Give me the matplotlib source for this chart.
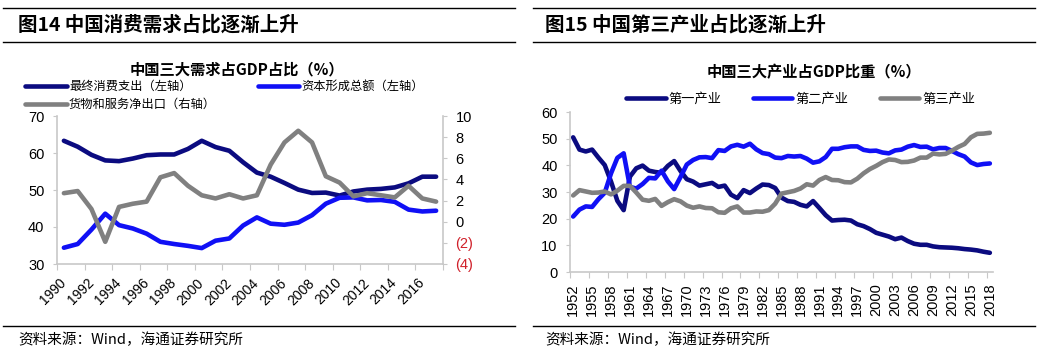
import matplotlib
matplotlib.use("Agg")
import matplotlib.pyplot as plt
from matplotlib.lines import Line2D
from matplotlib.ticker import FixedLocator, NullFormatter

plt.rcParams['font.family'] = ['Liberation Sans', 'Noto Sans CJK SC', 'DejaVu Sans']
CJK = ['Noto Sans CJK SC', 'DejaVu Sans']

# ---- data: demand shares (1990-2017) ----
years_a = list(range(1990, 2018))
consumption = [63.3, 61.7, 59.5, 58.0, 57.8, 58.5, 59.4, 59.6, 59.6, 61.1,
               63.3, 61.6, 60.6, 57.5, 54.7, 53.6, 51.9, 50.1, 49.2, 49.3,
               48.5, 49.6, 50.1, 50.3, 50.7, 51.8, 53.6, 53.6]
capital = [34.4, 35.4, 39.3, 43.6, 40.5, 39.6, 38.2, 36.0, 35.4, 34.9,
           34.3, 36.3, 36.9, 40.4, 42.6, 40.9, 40.6, 41.2, 43.2, 46.3,
           47.9, 48.0, 47.2, 47.3, 46.8, 44.7, 44.2, 44.4]
net_exports = [2.7, 2.9, 1.2, -1.9, 1.4, 1.7, 1.9, 4.2, 4.6, 3.4,
               2.5, 2.2, 2.6, 2.2, 2.5, 5.4, 7.5, 8.6, 7.5, 4.3,
               3.7, 2.4, 2.7, 2.5, 2.3, 3.4, 2.2, 1.9]

# ---- data: industry shares (1952-2018) ----
years_b = list(range(1952, 2019))
primary = [50.5, 45.9, 45.2, 45.9, 42.9, 40.1, 33.9, 26.7, 23.2, 35.8,
           38.9, 39.9, 38.0, 37.5, 37.2, 39.8, 41.6, 37.9, 34.8, 33.9,
           32.4, 32.9, 33.4, 31.9, 32.4, 29.0, 27.7, 30.7, 29.6, 31.3,
           32.8, 32.6, 31.5, 27.9, 26.6, 26.3, 25.2, 24.6, 26.6, 24.0,
           21.3, 19.3, 19.5, 19.6, 19.3, 17.9, 17.2, 16.1, 14.7, 14.0,
           13.3, 12.3, 12.9, 11.6, 10.6, 10.2, 10.2, 9.6, 9.3, 9.2,
           9.1, 8.9, 8.6, 8.4, 8.1, 7.6, 7.2]
secondary = [20.8, 23.4, 24.6, 24.4, 27.3, 29.7, 37.0, 42.8, 44.5, 31.9,
             31.3, 33.0, 35.3, 35.1, 38.0, 34.0, 31.1, 35.6, 40.3, 42.0,
             43.0, 43.1, 42.7, 45.7, 45.4, 47.1, 47.7, 47.0, 48.1, 46.0,
             44.6, 44.2, 42.9, 42.7, 43.5, 43.3, 43.5, 42.5, 41.0, 41.5,
             43.1, 46.2, 46.2, 46.8, 47.1, 47.1, 45.8, 45.4, 45.5, 44.8,
             44.5, 45.6, 45.9, 47.0, 47.6, 46.9, 47.0, 46.0, 46.5, 46.5,
             45.4, 44.2, 43.3, 41.1, 40.1, 40.5, 40.7]
tertiary = [28.7, 30.7, 30.2, 29.7, 29.8, 30.2, 29.1, 30.5, 32.3, 32.3,
            29.8, 27.1, 26.7, 27.4, 24.8, 26.2, 27.3, 26.5, 24.9, 24.1,
            24.6, 24.0, 23.9, 22.4, 22.2, 23.9, 24.6, 22.3, 22.3, 22.7,
            22.6, 23.2, 25.6, 29.4, 29.9, 30.4, 31.3, 32.9, 32.4, 34.5,
            35.6, 34.5, 34.4, 33.7, 33.6, 35.0, 37.0, 38.6, 39.8, 41.2,
            42.2, 42.0, 41.2, 41.3, 41.8, 42.9, 42.9, 44.4, 44.1, 44.3,
            45.5, 46.9, 48.0, 50.5, 51.8, 51.9, 52.2]

NAVY = '#0B0B80'
BLUE = '#1010F5'
GRAY = '#808080'
AXC = '#C8C8C8'
LW = 3.3

W, H = 1049, 354
fig = plt.figure(figsize=(W / 100, H / 100), dpi=100)


def fx(x):
    return x / W


def fy(y):
    return 1 - y / H


def hline(x0, x1, y):
    fig.add_artist(Line2D([fx(x0), fx(x1)], [fy(y), fy(y)], color='black', lw=1.0))


# frame lines and headers
for x0, x1 in [(3, 515), (533, 1035)]:
    hline(x0, x1, 8)
    hline(x0, x1, 42)
    hline(x0, x1, 325.5)
fig.text(fx(18), fy(25), '图14 中国消费需求占比逐渐上升', family=CJK, fontsize=14,
         fontweight='bold', va='center')
fig.text(fx(545), fy(25), '图15 中国第三产业占比逐渐上升', family=CJK, fontsize=14,
         fontweight='bold', va='center')
fig.text(fx(18), fy(340), '资料来源：Wind，海通证券研究所', family=CJK, fontsize=10.5, va='center')
fig.text(fx(545), fy(340), '资料来源：Wind，海通证券研究所', family=CJK, fontsize=10.5, va='center')

# ---------- left chart ----------
ax = fig.add_axes([fx(57), fy(264), fx(443 - 57), (264 - 116) / H])
xa = list(range(len(years_a)))
l1, = ax.plot(xa, consumption, color=NAVY, lw=LW, solid_capstyle='round', solid_joinstyle='round')
l2, = ax.plot(xa, capital, color=BLUE, lw=LW, solid_capstyle='round', solid_joinstyle='round')
ax.set_xlim(-0.5, len(years_a) - 0.5)
ax.set_ylim(30, 70)
ax.set_yticks(range(30, 71, 10))
ax2 = ax.twinx()
l3, = ax2.plot(xa, net_exports, color=GRAY, lw=LW, solid_capstyle='round', solid_joinstyle='round')
ax2.set_ylim(-4, 10)
ticks_r = list(range(-4, 11, 2))
ax2.set_yticks(ticks_r)
ax2.set_yticklabels(['(%d)' % -t if t < 0 else str(t) for t in ticks_r])
for lab, t in zip(ax2.get_yticklabels(), ticks_r):
    if t < 0:
        lab.set_color('#D0202A')

ax.xaxis.set_major_locator(FixedLocator([i - 0.5 for i in range(0, len(years_a) + 1, 2)]))
ax.xaxis.set_major_formatter(NullFormatter())
ax.xaxis.set_minor_locator(FixedLocator(list(range(0, len(years_a), 2))))
ax.set_xticklabels([str(y) for y in years_a[::2]], minor=True, rotation=45,
                   ha='right', va='center', rotation_mode='anchor', fontsize=10)
ax.tick_params(axis='x', which='minor', length=0, pad=12)
ax.tick_params(axis='x', which='major', length=4, color=AXC)
ax.tick_params(axis='y', length=3, color=AXC, labelsize=10.5, pad=6)
ax2.tick_params(axis='y', length=3, color=AXC, labelsize=10.5, pad=6)
for a in (ax, ax2):
    a.spines['top'].set_visible(False)
    for s in ('left', 'right', 'bottom'):
        a.spines[s].set_color(AXC)
        a.spines[s].set_linewidth(1.2)
ax.spines['right'].set_visible(False)
ax2.spines['left'].set_visible(False)
ax2.spines['bottom'].set_visible(False)

fig.text(fx(237), fy(69), '中国三大需求占GDP占比（%）', family=CJK, fontsize=11,
         fontweight='bold', ha='center', va='center')
leg = fig.legend([l1, l3, l2], ['最终消费支出（左轴）', '货物和服务净出口（右轴）', '资本形成总额（左轴）'],
                 loc='upper left', bbox_to_anchor=(fx(25), fy(80)), ncol=2, frameon=False,
                 prop={'family': CJK, 'size': 8.8}, handlelength=3.4, handletextpad=0.2,
                 columnspacing=3.4, labelspacing=0.4, borderaxespad=0, borderpad=0)

# ---------- right chart ----------
bx = fig.add_axes([fx(570), fy(272), fx(993 - 570), (272 - 112) / H])
xb = list(range(len(years_b)))
m1, = bx.plot(xb, primary, color=NAVY, lw=LW, solid_capstyle='round', solid_joinstyle='round')
m2, = bx.plot(xb, secondary, color=BLUE, lw=LW, solid_capstyle='round', solid_joinstyle='round')
m3, = bx.plot(xb, tertiary, color=GRAY, lw=LW, solid_capstyle='round', solid_joinstyle='round')
bx.set_xlim(-0.5, len(years_b) - 0.5)
bx.set_ylim(0, 60)
bx.set_yticks(range(0, 61, 10))
bx.xaxis.set_major_locator(FixedLocator([i - 0.5 for i in range(0, len(years_b) + 1, 3)]))
bx.xaxis.set_major_formatter(NullFormatter())
bx.xaxis.set_minor_locator(FixedLocator(list(range(0, len(years_b), 3))))
bx.set_xticklabels([str(y) for y in years_b[::3]], minor=True, rotation=90,
                   ha='center', va='top', fontsize=10.5)
bx.tick_params(axis='x', which='minor', length=0, pad=8)
bx.tick_params(axis='x', which='major', length=4, color=AXC)
bx.tick_params(axis='y', length=3, color=AXC, labelsize=10.5, pad=6)
for s in ('top', 'right'):
    bx.spines[s].set_visible(False)
for s in ('left', 'bottom'):
    bx.spines[s].set_color(AXC)
    bx.spines[s].set_linewidth(1.2)

fig.text(fx(814), fy(72), '中国三大产业占GDP比重（%）', family=CJK, fontsize=11,
         fontweight='bold', ha='center', va='center')
fig.legend([m1, m2, m3], ['第一产业', '第二产业', '第三产业'],
           loc='center left', bbox_to_anchor=(fx(626), fy(99)), ncol=3, frameon=False,
           prop={'family': CJK, 'size': 9.5}, handlelength=3.0, handletextpad=0.2,
           columnspacing=2.4, borderaxespad=0, borderpad=0)

fig.savefig('out.png', dpi=100)
